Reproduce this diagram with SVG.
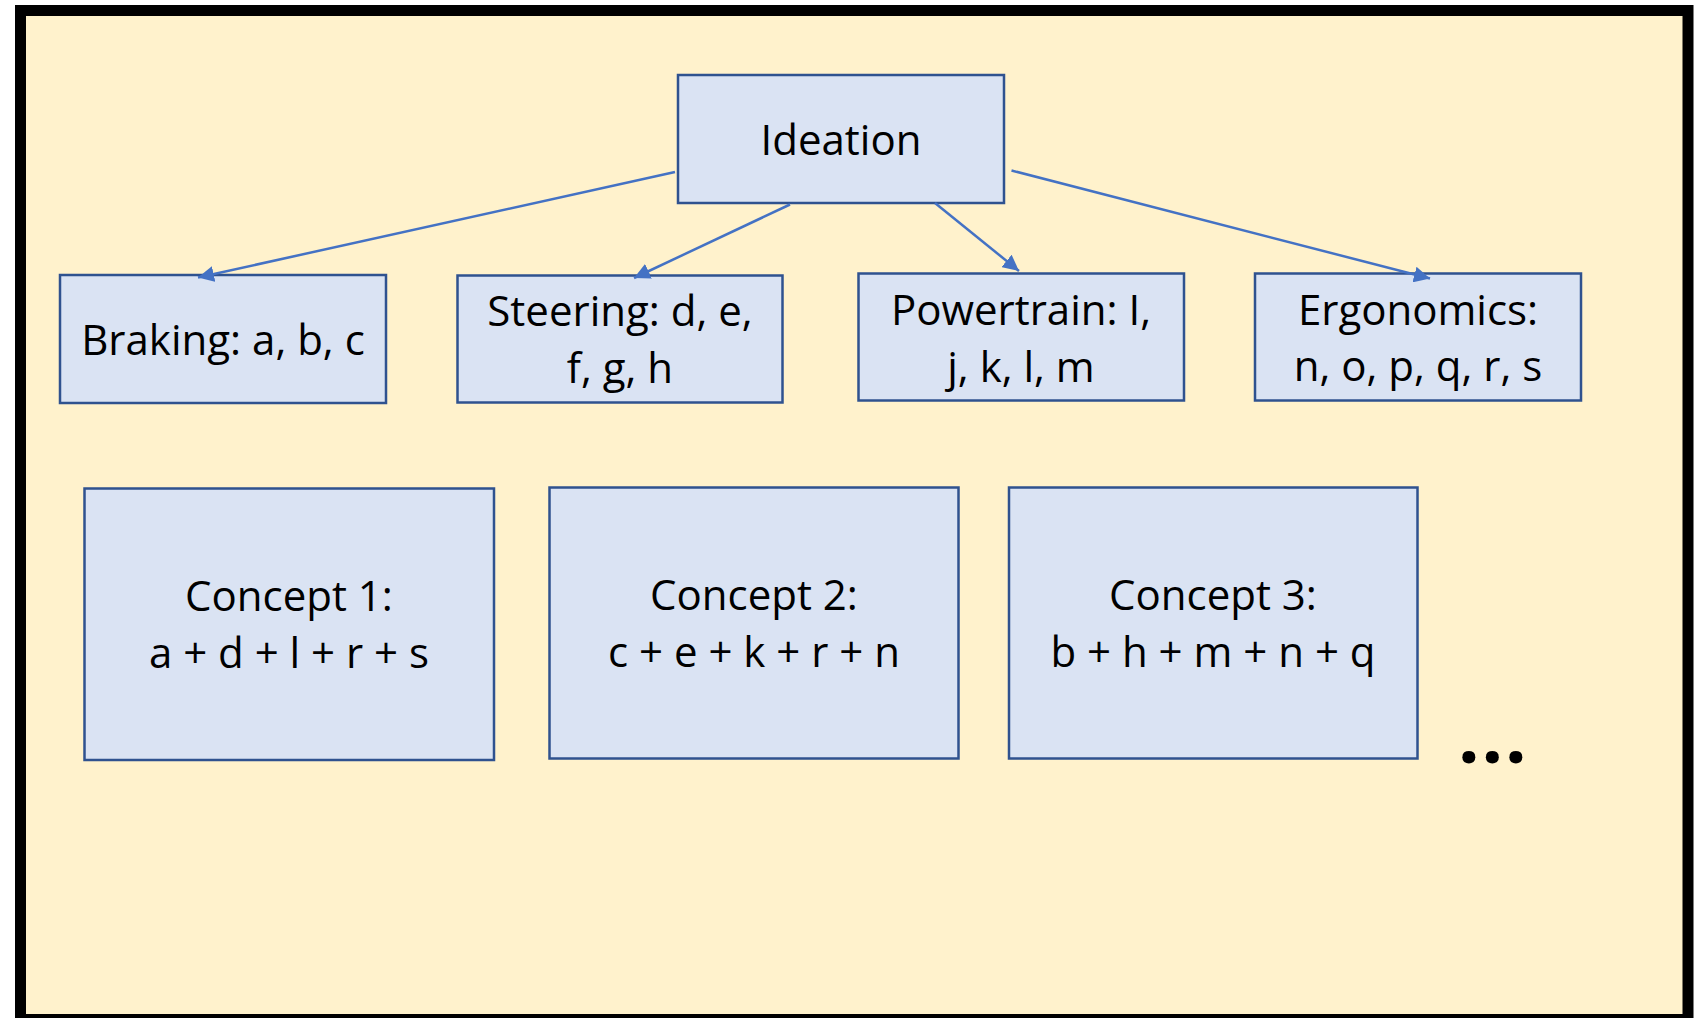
<svg xmlns="http://www.w3.org/2000/svg" width="1701" height="1018" viewBox="0 0 1701 1018">
  <style>
    .box { fill: #DAE3F3; stroke: #2F528F; stroke-width: 2.5; }
    .lbl { font-family: "Open Sans", "Liberation Sans", sans-serif; font-size: 42px; fill: #000; text-anchor: middle; }
    .conn { stroke: #4472C4; stroke-width: 2.5; fill: none; marker-end: url(#arrow); }
  </style>
  <defs>
    <marker id="arrow" viewBox="0 0 10 10" refX="10" refY="5" markerWidth="6.4" markerHeight="6.4" orient="auto" markerUnits="strokeWidth">
      <path d="M0,0 L10,5 L0,10 z" fill="#4472C4"/>
    </marker>
  </defs>
  <rect x="0" y="0" width="1701" height="1018" fill="#FFFFFF"/>
  <rect id="frame" x="20.5" y="10.5" width="1667.5" height="1009" fill="#FFF2CC" stroke="#000" stroke-width="11"/>

  <g id="ideation">
    <rect class="box" x="678" y="75" width="326" height="128"/>
    <text class="lbl" x="841" y="155">Ideation</text>
  </g>

  <g id="braking">
    <rect class="box" x="60" y="275" width="326" height="128"/>
    <text class="lbl" x="223" y="355">Braking: a, b, c</text>
  </g>

  <g id="steering">
    <rect class="box" x="457.5" y="275.5" width="325" height="127"/>
    <text class="lbl" x="620" y="326">Steering: d, e,</text>
    <text class="lbl" x="620" y="383">f, g, h</text>
  </g>

  <g id="powertrain">
    <rect class="box" x="858.5" y="273.5" width="325.5" height="127"/>
    <text class="lbl" x="1021" y="325">Powertrain: I,</text>
    <text class="lbl" x="1021" y="382">j, k, l, m</text>
  </g>

  <g id="ergonomics">
    <rect class="box" x="1255" y="273.5" width="326" height="127"/>
    <text class="lbl" x="1418" y="324.5">Ergonomics:</text>
    <text class="lbl" x="1418" y="381">n, o, p, q, r, s</text>
  </g>

  <g id="concept1">
    <rect class="box" x="84.5" y="488.5" width="409.5" height="271.5"/>
    <text class="lbl" x="289" y="611">Concept 1:</text>
    <text class="lbl" x="289" y="668">a + d + l + r + s</text>
  </g>

  <g id="concept2">
    <rect class="box" x="549.5" y="487.5" width="409" height="271"/>
    <text class="lbl" x="754" y="610">Concept 2:</text>
    <text class="lbl" x="754" y="667">c + e + k + r + n</text>
  </g>

  <g id="concept3">
    <rect class="box" x="1009" y="487.5" width="408.5" height="271"/>
    <text class="lbl" x="1213" y="610">Concept 3:</text>
    <text class="lbl" x="1213" y="667">b + h + m + n + q</text>
  </g>

  <g id="ellipsis">
    <text x="1458" y="762.5" font-family="Open Sans, Liberation Sans, sans-serif" font-weight="bold" font-size="76" letter-spacing="1.8" fill="#000">...</text>
  </g>

  <g id="connectors">
    <line class="conn" x1="675" y1="172" x2="198" y2="277.5"/>
    <line class="conn" x1="790" y1="204.5" x2="634" y2="278"/>
    <line class="conn" x1="935" y1="203" x2="1019" y2="271"/>
    <line class="conn" x1="1011.5" y1="170.5" x2="1430" y2="278.5"/>
  </g>
</svg>
